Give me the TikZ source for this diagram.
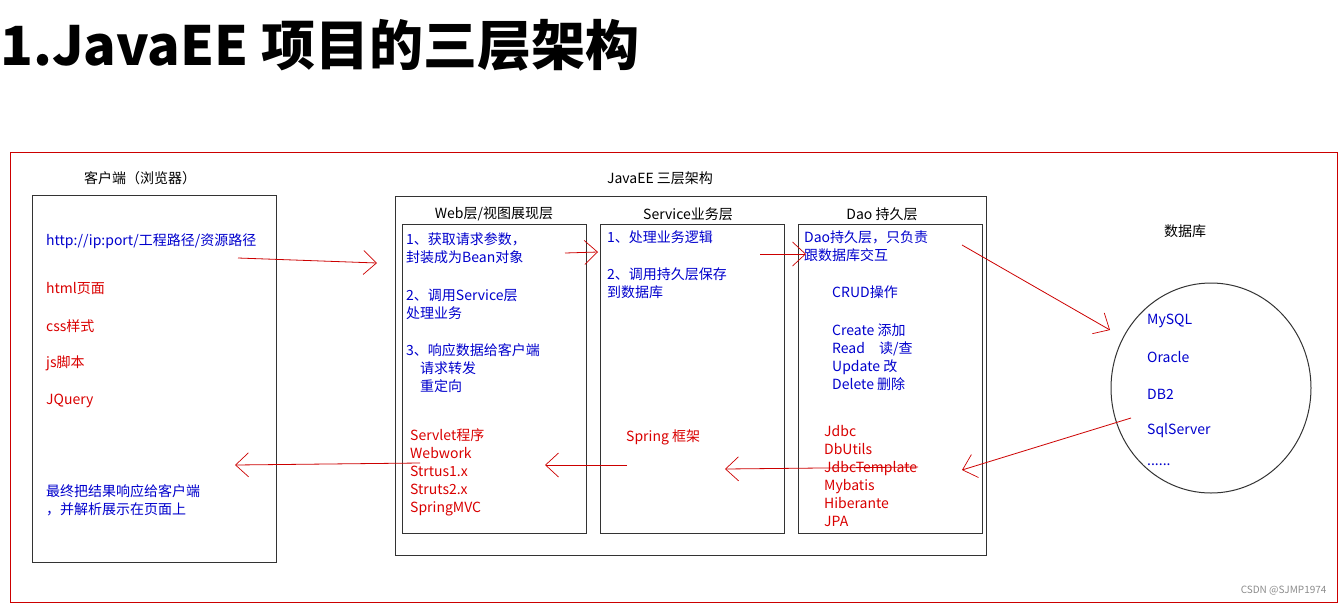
\documentclass[tikz,border=0pt]{standalone}
\usepackage{fontspec}
\setmainfont{Noto Sans CJK SC}
\usetikzlibrary{arrows.meta}
\tikzset{
    frame/.style={draw=black!80, line width=1pt},
    bluetxt/.style={anchor=west, text=blue!80!black, font=\fontsize{14}{18}\selectfont, inner sep=0pt, align=left},
    redtxt/.style={anchor=west, text=red!85!black, font=\fontsize{14}{18}\selectfont, inner sep=0pt, align=left},
    headtxt/.style={font=\fontsize{14}{18}\selectfont, inner sep=0pt},
    flow/.style={draw=red!80!black, line width=0.8pt, -{Straight Barb[length=13pt,width=24pt,line width=0.7pt]}}
}
\begin{document}
\begin{tikzpicture}[x=1pt,y=-1pt]
    \useasboundingbox (0,0) rectangle (1342,606);
    % title
    \node[anchor=west, inner sep=0pt, font=\fontsize{54}{60}\selectfont\bfseries] (title) at (0,45) {1.JavaEE 项目的三层架构};
    \draw[draw=red!80!black, line width=1pt] (10,152) rectangle (1337,602);

    % client
    \node[headtxt] (clientlbl) at (140,178) {客户端（浏览器）};
    \draw[frame] (32,195) rectangle (276,562);
    \node[bluetxt] (url) at (46,241) {http://ip:port/工程路径/资源路径};
    \node[redtxt] (html) at (46,289) {html页面};
    \node[redtxt] (css) at (46,326) {css样式};
    \node[redtxt] (js) at (46,363) {js脚本};
    \node[redtxt] (jq) at (46,401) {JQuery};
    \node[bluetxt] (result) at (46,500) {最终把结果响应给客户端\\，并解析展示在页面上};

    % three layers
    \node[headtxt] (eelbl) at (660,178) {JavaEE 三层架构};
    \draw[frame] (395,196) rectangle (986,555);
    \node[headtxt] (weblbl) at (494,214) {Web层/视图展现层};
    \node[headtxt] (svclbl) at (688,214) {Service业务层};
    \node[headtxt] (daolbl) at (882,214) {Dao 持久层};
    \draw[frame] (402,224) rectangle (586,533);
    \draw[frame] (600,224) rectangle (784,533);
    \draw[frame] (798,224) rectangle (982,533);

    \node[bluetxt] (web1) at (406,248) {1、获取请求参数，\\封装成为Bean对象};
    \node[bluetxt] (web2) at (406,304) {2、调用Service层\\处理业务};
    \node[bluetxt] (web3) at (406,368) {3、响应数据给客户端\\\quad 请求转发\\\quad 重定向};
    \node[redtxt] (webfw) at (410,472) {Servlet程序\\Webwork\\Strtus1.x\\Struts2.x\\SpringMVC};

    \node[bluetxt] (svc1) at (607,237) {1、处理业务逻辑};
    \node[bluetxt] (svc2) at (607,283) {2、调用持久层保存\\到数据库};
    \node[redtxt] (spring) at (626,437) {Spring 框架};

    \node[bluetxt] (dao1) at (804,246) {Dao持久层，只负责\\跟数据库交互};
    \node[bluetxt] (crud) at (832,292) {CRUD操作};
    \node[bluetxt] (ops) at (832,357) {Create 添加\\Read\quad 读/查\\Update 改\\Delete 删除};
    \node[redtxt] (daofw) at (824,476) {Jdbc\\DbUtils\\JdbcTemplate\\Mybatis\\Hiberante\\JPA};

    % database
    \node[headtxt] (dblbl) at (1185,231) {数据库};
    \draw[frame] (1211,388) ellipse (100 and 105);
    \node[bluetxt] (mysql) at (1147,321) {MySQL};
    \node[bluetxt] (oracle) at (1147,357) {Oracle};
    \node[bluetxt] (db2) at (1147,394) {DB2};
    \node[bluetxt] (sqlsrv) at (1147,431) {SqlServer};
    \node[bluetxt] (more) at (1147,465) {......};

    % flows
    \coordinate (a1) at (238,258); \coordinate (b1) at (377,263);
    \coordinate (a2) at (565,253); \coordinate (b2) at (598,252);
    \coordinate (a3) at (760,254); \coordinate (b3) at (806,254);
    \coordinate (a4) at (962,245); \coordinate (b4) at (1110,330);
    \coordinate (a5) at (1131,418); \coordinate (b5) at (962,470);
    \coordinate (a6) at (918,467); \coordinate (b6) at (725,469);
    \coordinate (a7) at (627,465); \coordinate (b7) at (545,465);
    \coordinate (a8) at (420,463); \coordinate (b8) at (235,465);
    \foreach \i in {1,...,8}
        \draw[flow] (a\i) -- (b\i);

    \node[anchor=east, text=black!45, font=\fontsize{10}{12}\selectfont] (mark) at (1330,591) {CSDN @SJMP1974};
\end{tikzpicture}
\end{document}
